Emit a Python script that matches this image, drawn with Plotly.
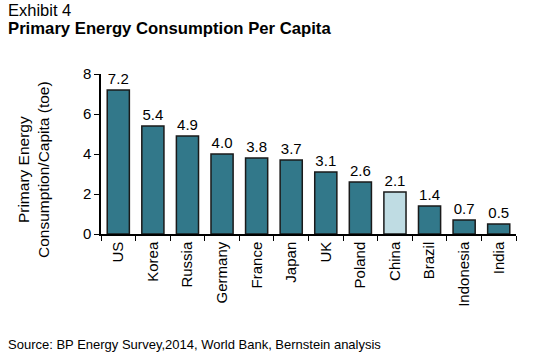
import plotly.graph_objects as go

countries = ["US", "Korea", "Russia", "Germany", "France", "Japan", "UK", "Poland", "China", "Brazil", "Indonesia", "India"]
values = [7.2, 5.4, 4.9, 4.0, 3.8, 3.7, 3.1, 2.6, 2.1, 1.4, 0.7, 0.5]
labels = ["7.2", "5.4", "4.9", "4.0", "3.8", "3.7", "3.1", "2.6", "2.1", "1.4", "0.7", "0.5"]
y_ticks = [0, 2, 4, 6, 8]

dark = "#32788A"
light = "#BFDCE3"
colors = [light if c == "China" else dark for c in countries]

FONT = "Liberation Sans, Arial, sans-serif"

fig = go.Figure(go.Bar(
    x=countries, y=values, text=labels, textposition="outside",
    textfont=dict(size=15, color="#000", family=FONT),
    marker=dict(color=colors, line=dict(color="#1a1a1a", width=1.5)),
    cliponaxis=False,
))

fig.update_layout(
    width=551, height=357,
    margin=dict(l=101, r=35, t=74, b=123),
    plot_bgcolor="white", paper_bgcolor="white",
    bargap=0.36,
    showlegend=False,
    font=dict(family=FONT, color="#000"),
    xaxis=dict(
        tickangle=-90, tickfont=dict(size=15), showline=True, linecolor="#000", linewidth=1.5,
        ticks="outside", tickson="boundaries", ticklen=5, tickcolor="#000", tickwidth=1,
        showgrid=False, automargin=False,
    ),
    yaxis=dict(
        range=[0, 8], tickvals=y_ticks, tickfont=dict(size=15), showline=True, linecolor="#000",
        linewidth=1.5, ticks="outside", ticklen=5, tickcolor="#000", showgrid=False,
        zeroline=False, automargin=False,
    ),
    annotations=[
        dict(text="Exhibit 4", x=0, y=1, xref="paper", yref="paper", xanchor="left", yanchor="top",
             showarrow=False, font=dict(size=16.5, family=FONT), xshift=-95, yshift=75),
        dict(text="<b>Primary Energy Consumption Per Capita</b>", x=0, y=1, xref="paper", yref="paper",
             xanchor="left", yanchor="top", showarrow=False, font=dict(size=16.7, family=FONT),
             xshift=-95, yshift=57),
        dict(text="Primary Energy<br>Consumption/Capita (toe)", x=0, y=0.5, xref="paper", yref="paper",
             xanchor="center", yanchor="middle",
             textangle=-90, showarrow=False, font=dict(size=15.5, family=FONT), xshift=-68, yshift=-16),
        dict(text="Source: BP Energy Survey,2014, World Bank, Bernstein analysis", x=0, y=0, xref="paper",
             yref="paper", xanchor="left", yanchor="bottom", showarrow=False,
             font=dict(size=13, family=FONT), xshift=-95, yshift=-120),
    ],
)

fig.write_html("out.html", config={"displayModeBar": False},
               post_script="document.body.style.margin='0';document.body.style.padding='0';")
